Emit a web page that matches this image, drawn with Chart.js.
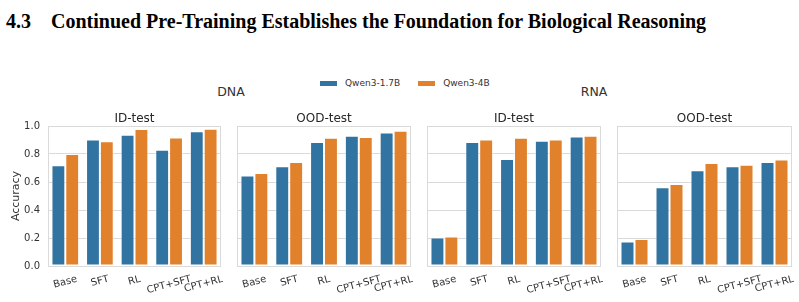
<!DOCTYPE html>
<html>
<head>
<meta charset="utf-8">
<script src="https://cdn.jsdelivr.net/npm/chart.js@4.4.0/dist/chart.umd.min.js"></script>
<style>
  body { margin:0; background:#fff; width:799px; height:302px; overflow:hidden; position:relative; font-family:'DejaVu Sans',sans-serif; color:#333; }
  .abs { position:absolute; }
  #heading { left:6px; top:11px; font:bold 20px 'Liberation Serif',serif; color:#000; white-space:nowrap; line-height:20px; }
  #heading .num { display:inline-block; width:45px; }
  .group { width:100px; text-align:center; font-size:12.5px; line-height:15px; top:84px; }
  #legend { left:320px; top:75.5px; display:flex; align-items:center; font-size:9px; line-height:15px; }
  #legend .sw { width:17px; height:5px; margin-right:8px; }
  #legend .item { display:flex; align-items:center; margin-right:18px; }
  canvas { position:absolute; top:100px; }
</style>
</head>
<body>
<div id="heading" class="abs"><span class="num">4.3</span>Continued Pre-Training Establishes the Foundation for Biological Reasoning</div>
<div id="legend" class="abs"></div>
<div class="abs group" style="left:181px">DNA</div>
<div class="abs group" style="left:544px">RNA</div>
<canvas id="p1" width="223" height="202" style="left:0px"></canvas>
<canvas id="p2" width="178" height="202" style="left:235px"></canvas>
<canvas id="p3" width="178" height="202" style="left:425px"></canvas>
<canvas id="p4" width="179" height="202" style="left:615px"></canvas>
<script>
const categories = ['Base', 'SFT', 'RL', 'CPT+SFT', 'CPT+RL'];
const seriesNames = ['Qwen3-1.7B', 'Qwen3-4B'];
const seriesColors = ['#3274a1', '#e1812c'];

// DNA
const dnaIdSmall  = [0.72, 0.903, 0.938, 0.831, 0.962];
const dnaIdLarge  = [0.80, 0.891, 0.979, 0.917, 0.981];
const dnaOodSmall = [0.646, 0.712, 0.885, 0.930, 0.954];
const dnaOodLarge = [0.665, 0.743, 0.916, 0.921, 0.966];
// RNA
const rnaIdSmall  = [0.204, 0.885, 0.764, 0.895, 0.925];
const rnaIdLarge  = [0.211, 0.904, 0.916, 0.904, 0.930];
const rnaOodSmall = [0.175, 0.563, 0.684, 0.712, 0.743];
const rnaOodLarge = [0.192, 0.585, 0.736, 0.724, 0.760];

const yTickStep = 0.2;

const legendEl = document.getElementById('legend');
legendEl.innerHTML = seriesNames.map((n, i) =>
  `<div class="item"><div class="sw" style="background:${seriesColors[i]}"></div><span>${n}</span></div>`
).join('');

const panels = [
  { id: 'p1', title: 'ID-test',  a: dnaIdSmall,  b: dnaIdLarge,  pl: 0, pr: 2, yw: 48, first: true },
  { id: 'p2', title: 'OOD-test', a: dnaOodSmall, b: dnaOodLarge, pl: 2, pr: 2, yw: 0 },
  { id: 'p3', title: 'ID-test',  a: rnaIdSmall,  b: rnaIdLarge,  pl: 2, pr: 2, yw: 0 },
  { id: 'p4', title: 'OOD-test', a: rnaOodSmall, b: rnaOodLarge, pl: 2, pr: 2, yw: 0 },
];

const gridColor = '#dadada';
const textColor = '#333';

const framePlugin = {
  id: 'frame',
  afterDatasetsDraw(chart) {
    const { ctx, chartArea: a } = chart;
    ctx.save();
    ctx.strokeStyle = gridColor;
    ctx.lineWidth = 1;
    ctx.strokeRect(a.left + 0.5, a.top + 0.5, a.right - a.left - 1, a.bottom - a.top);
    ctx.restore();
  }
};

// rotated, centred category labels (matplotlib style)
const xLabelPlugin = {
  id: 'xlabels',
  afterDraw(chart) {
    const { ctx, chartArea } = chart;
    const xs = chart.scales.x;
    const ang = 15 * Math.PI / 180;
    ctx.save();
    ctx.font = '10px "DejaVu Sans"';
    ctx.fillStyle = textColor;
    ctx.textAlign = 'center';
    ctx.textBaseline = 'middle';
    chart.data.labels.forEach((lab, i) => {
      const w = ctx.measureText(lab).width;
      const h = w * Math.sin(ang) + 11.7 * Math.cos(ang);
      const cx = xs.getPixelForValue(i);
      const cy = chartArea.bottom + 7.3 + h / 2;
      ctx.save();
      ctx.translate(cx, cy);
      ctx.rotate(-ang);
      ctx.fillText(lab, 0, 0);
      ctx.restore();
    });
    ctx.restore();
  }
};

panels.forEach(p => {
  new Chart(document.getElementById(p.id), {
    type: 'bar',
    data: {
      labels: categories,
      datasets: [
        { label: seriesNames[0], data: p.a, backgroundColor: seriesColors[0] },
        { label: seriesNames[1], data: p.b, backgroundColor: seriesColors[1] },
      ].map(d => ({ ...d, borderColor: 'rgba(255,255,255,0.55)', borderWidth: 1, borderSkipped: false,
                    categoryPercentage: 0.8, barPercentage: 1.0 }))
    },
    options: {
      responsive: false,
      devicePixelRatio: 1,
      animation: false,
      layout: { padding: { left: p.pl, right: p.pr, top: 0, bottom: 0 } },
      plugins: {
        legend: { display: false },
        tooltip: { enabled: false },
        title: {
          display: true, text: p.title, fullSize: false,
          color: '#262626', font: { family: 'DejaVu Sans', size: 12, weight: 'normal' },
          padding: { top: 11.5, bottom: 0.1 }
        }
      },
      scales: {
        x: {
          grid: { display: false },
          border: { display: false },
          ticks: { display: false },
          afterFit(s) { s.height = 36; }
        },
        y: {
          min: 0, max: 1.0,
          grid: { color: gridColor, lineWidth: 1, drawTicks: false },
          border: { display: false },
          ticks: {
            display: !!p.first, stepSize: yTickStep, padding: 8, color: textColor,
            font: { family: 'DejaVu Sans', size: 10 },
            callback: v => v.toFixed(1)
          },
          title: {
            display: !!p.first, text: 'Accuracy', color: textColor,
            font: { family: 'DejaVu Sans', size: 11 },
            padding: { top: 10, bottom: 0 }
          },
          afterFit(s) { s.width = p.yw; }
        }
      }
    },
    plugins: [framePlugin, xLabelPlugin]
  });
});
</script>
</body>
</html>
